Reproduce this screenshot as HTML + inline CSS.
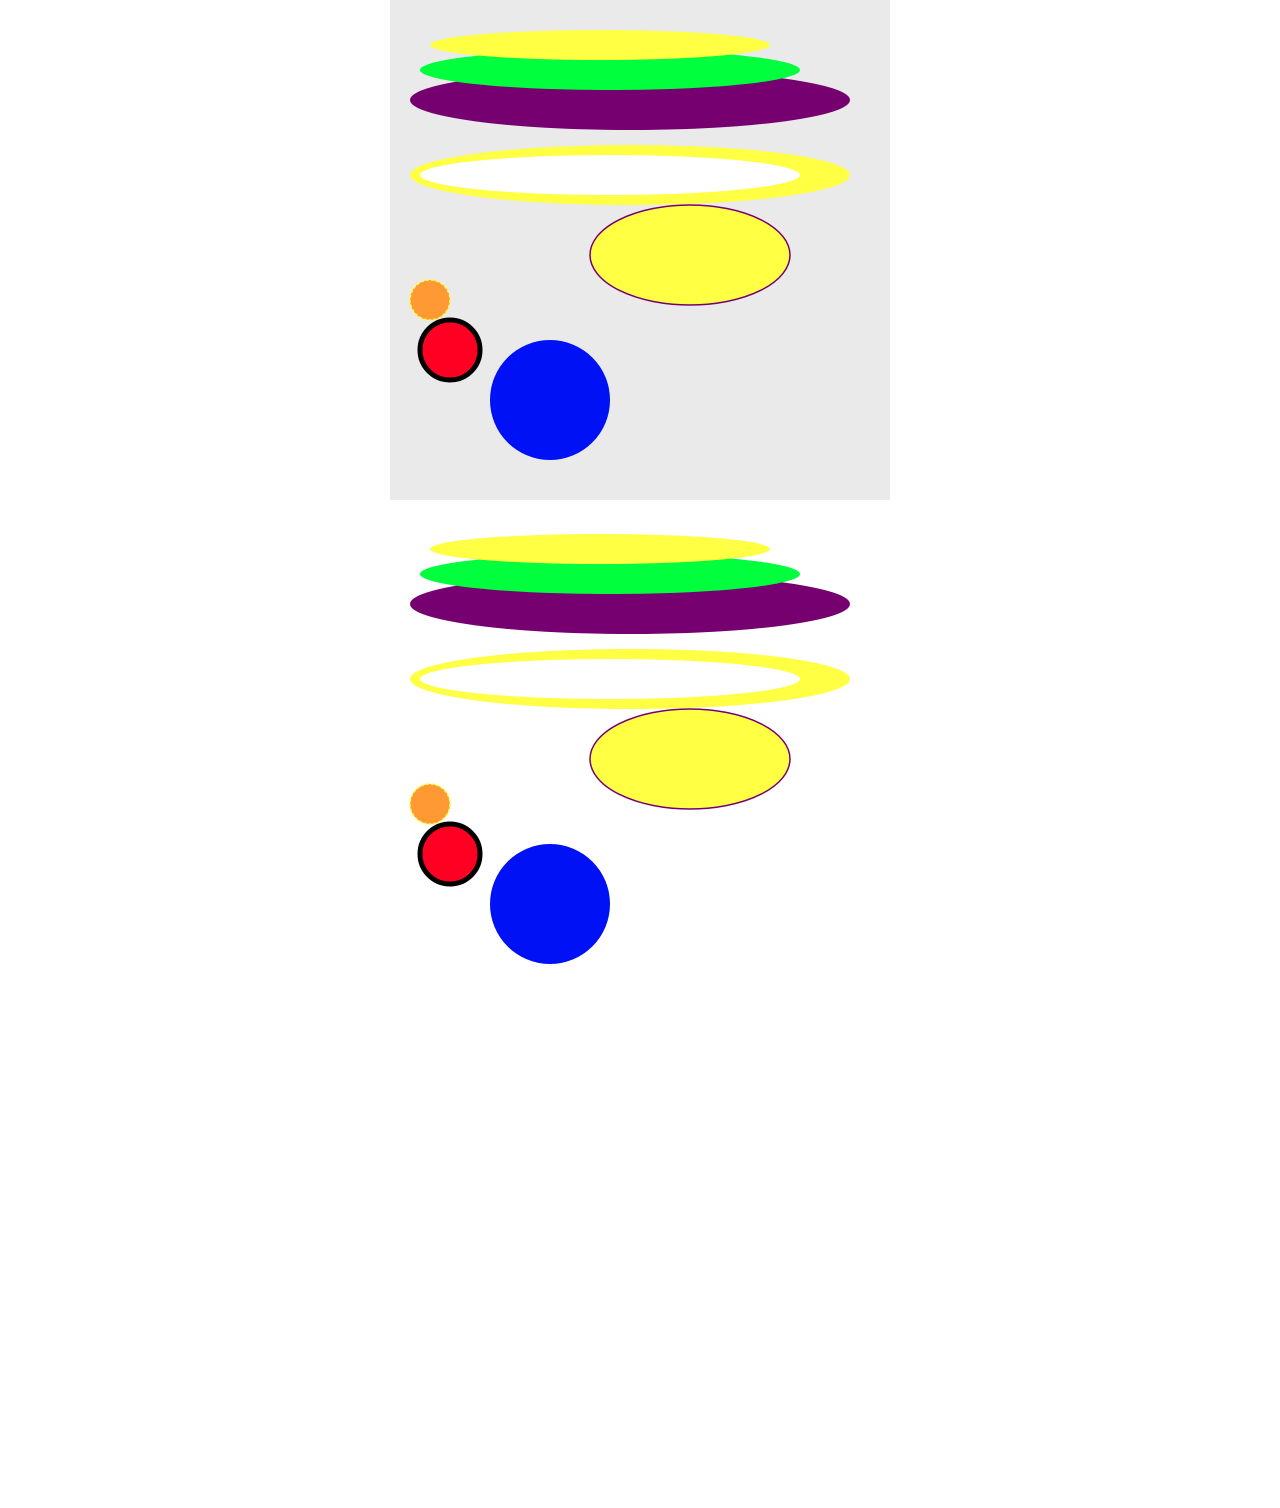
<!DOCTYPE html>
<html><head><meta charset="utf-8"><style>
html,body{margin:0;padding:0;background:#fff;width:1280px;height:1508px;overflow:hidden}
svg{position:absolute;left:390px}
</style></head><body>
<svg style="top:0" width="500" height="500" viewBox="0 0 500 500">
<rect width="500" height="500" fill="#eaeaea"/>
<ellipse cx="240" cy="100" rx="220" ry="30" fill="#770070"/>
<ellipse cx="220" cy="70" rx="190" ry="20" fill="#00ff3c"/>
<ellipse cx="210" cy="45" rx="170" ry="15" fill="#ffff44"/>
<ellipse cx="240" cy="175" rx="220" ry="30" fill="#ffff44"/>
<ellipse cx="220" cy="175" rx="190" ry="20" fill="#ffffff"/>
<ellipse cx="300" cy="255" rx="100" ry="50" fill="#ffff44" stroke="#770070" stroke-width="1.5"/>
<circle cx="40" cy="300" r="20" fill="#ff9933" stroke="#ffff44" stroke-width="1.5" stroke-dasharray="3,2"/>
<circle cx="60" cy="350" r="30" fill="#ff0022" stroke="#000" stroke-width="5"/>
<circle cx="160" cy="400" r="60" fill="#0011f5"/>
</svg>
<svg style="top:504px" width="500" height="500" viewBox="0 0 500 500">
<ellipse cx="240" cy="100" rx="220" ry="30" fill="#770070"/>
<ellipse cx="220" cy="70" rx="190" ry="20" fill="#00ff3c"/>
<ellipse cx="210" cy="45" rx="170" ry="15" fill="#ffff44"/>
<ellipse cx="240" cy="175" rx="220" ry="30" fill="#ffff44"/>
<ellipse cx="220" cy="175" rx="190" ry="20" fill="#ffffff"/>
<ellipse cx="300" cy="255" rx="100" ry="50" fill="#ffff44" stroke="#770070" stroke-width="1.5"/>
<circle cx="40" cy="300" r="20" fill="#ff9933" stroke="#ffff44" stroke-width="1.5" stroke-dasharray="3,2"/>
<circle cx="60" cy="350" r="30" fill="#ff0022" stroke="#000" stroke-width="5"/>
<circle cx="160" cy="400" r="60" fill="#0011f5"/>
</svg>
</body></html>
